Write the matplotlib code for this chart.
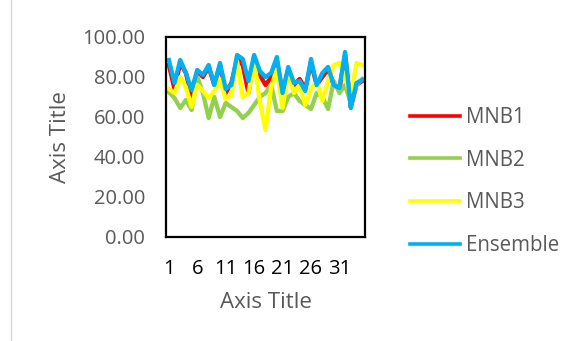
import matplotlib
matplotlib.use("Agg")
import matplotlib.pyplot as plt
from matplotlib.lines import Line2D

plt.rcParams['font.family'] = ['Open Sans', 'DejaVu Sans']

categories = list(range(1, 36))
mnb1 = [86, 74, 87, 82, 70, 83, 80, 85, 76, 86, 72, 77, 89, 86, 72, 90, 81, 76, 80, 88,
        72, 84, 76, 79, 74, 87, 76, 80, 84, 76, 74, 91, 65, 76, 78]
mnb2 = [72.5, 69.5, 64.5, 68.5, 63.5, 80, 72, 59.5, 70, 60, 67, 65, 63, 59.5, 62, 66, 70, 72, 76, 63,
        63, 70, 72, 68, 66, 64, 72, 70, 64, 78, 72, 76, 67, 76, 79]
mnb3 = [74, 72, 80, 75, 65, 76, 73, 69.5, 73, 79, 69, 71, 88, 70, 72, 88, 68, 53.5, 75, 84,
        64.5, 82, 72, 76, 66, 74, 78, 68, 78, 86, 87, 80, 70, 87, 86]
ensemble = [88.5, 77, 88.5, 82, 73.5, 83.5, 81, 86, 76, 87, 74, 76, 91, 89, 78, 91, 83, 80, 82, 90,
            72, 85, 77, 78, 73, 89, 76, 82, 85, 76, 74.5, 92.5, 64.5, 77, 78.5]
series_names = ['MNB1', 'MNB2', 'MNB3', 'Ensemble']
colors = ['#FF0000', '#92D050', '#FFFF00', '#00B0F0']
yticks = [0, 20, 40, 60, 80, 100]
xticks = [1, 6, 11, 16, 21, 26, 31]

W, H = 577, 341
fig = plt.figure(figsize=(W / 100, H / 100), dpi=100)
ax = fig.add_axes([166 / W, 1 - 237 / H, 199 / W, 200 / H])

for vals, name, c in zip([mnb1, mnb2, mnb3, ensemble], series_names, colors):
    ax.plot(categories, vals, color=c, lw=3.1, label=name, solid_joinstyle='round')

ax.set_xlim(0.5, 35.5)
ax.set_ylim(0, 100)
ax.set_yticks(yticks)
ax.set_yticklabels([f"{v:.2f}" for v in yticks], color='#595959', fontsize=14.5)
ax.set_xticks(xticks)
ax.set_xticklabels([str(v) for v in xticks], color='black', fontsize=14.5)
ax.tick_params(axis='both', length=0)
ax.tick_params(axis='y', pad=15)
ax.tick_params(axis='x', pad=16)
for s in ax.spines.values():
    s.set_linewidth(1.6)
    s.set_color('black')

fig.text(60 / W, 1 - 137 / H, 'Axis Title', rotation=90, ha='center', va='center',
         color='#595959', fontsize=16)
fig.text(266 / W, 1 - 303 / H, 'Axis Title', ha='center', va='center',
         color='#595959', fontsize=16)

leg = fig.legend(loc='upper left', bbox_to_anchor=(410 / W, 1 - 107 / H), frameon=False,
                 fontsize=14.8, handlelength=2.45, handletextpad=0.25, labelspacing=1.05,
                 borderpad=0, borderaxespad=0)
for t in leg.get_texts():
    t.set_color('#595959')
for l in leg.get_lines():
    l.set_linewidth(2.6)

fig.add_artist(Line2D([11 / W, 11 / W], [0, 1], transform=fig.transFigure, color='#D9D9D9', lw=1))

fig.savefig('out.png', dpi=100, facecolor='white')
